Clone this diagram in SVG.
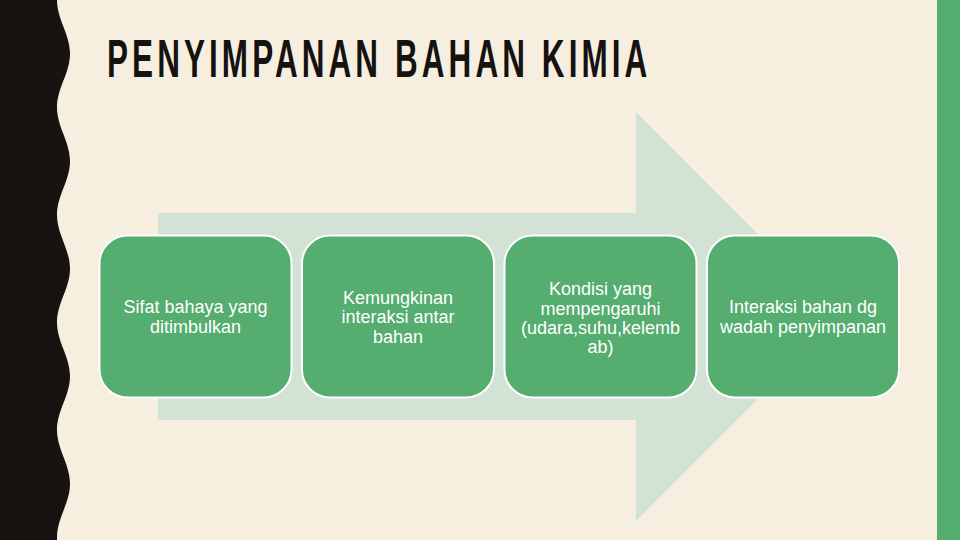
<svg xmlns="http://www.w3.org/2000/svg" width="960" height="540" viewBox="0 0 960 540">
  <style>
    .box { fill: #55AD6F; stroke: #FFFFFF; stroke-width: 2; }
    .lbl { font-family: "Liberation Sans", Arial, sans-serif; font-size: 18px; fill: #FFFFFF; text-anchor: middle; }
    .title { font-family: "Liberation Sans", Arial, sans-serif; font-size: 54px; font-weight: bold; fill: #151210; letter-spacing: 7px; }
  </style>
  <rect x="0" y="0" width="960" height="540" fill="#F6EFE0"/>
  <path id="left-band" fill="#161311" d="M0,0 L57,0 C57,19.35 70,34.4 70,53.75 C70,73.1 57,88.15 57,107.5 C57,126.85 70,141.9 70,161.25 C70,180.6 57,195.65 57,215 C57,234.35 70,249.4 70,268.75 C70,288.1 57,303.15 57,322.5 C57,341.85 70,356.9 70,376.25 C70,395.6 57,410.65 57,430 C57,449.35 70,464.4 70,483.75 C70,503.1 57,518.15 57,537.5 C57,556.85 70,571.9 70,591.25 L0,591.25 Z"/>
  <rect id="right-band" x="937" y="0" width="23" height="540" fill="#55AD6F"/>
  <text id="title" class="title" x="0" y="0" transform="translate(107,77) scale(0.583,1)">PENYIMPANAN BAHAN KIMIA</text>
  <g id="connectors">
    <path id="process-arrow" fill="#D2E3D5" d="M158,213 L636,213 L636,112 L840,316.5 L636,521 L636,420 L158,420 Z"/>
  </g>
  <g id="node1">
    <rect class="box" x="99.5" y="235.5" width="192" height="162" rx="28"/>
    <text class="lbl" x="195.5" y="313.3">Sifat bahaya yang</text>
    <text class="lbl" x="195.5" y="333.3">ditimbulkan</text>
  </g>
  <g id="node2">
    <rect class="box" x="302" y="235.5" width="192" height="162" rx="28"/>
    <text class="lbl" x="398" y="303.5">Kemungkinan</text>
    <text class="lbl" x="398" y="323.3">interaksi antar</text>
    <text class="lbl" x="398" y="343">bahan</text>
  </g>
  <g id="node3">
    <rect class="box" x="504.5" y="235.5" width="192" height="162" rx="28"/>
    <text class="lbl" x="600.5" y="295">Kondisi yang</text>
    <text class="lbl" x="600.5" y="314.5">mempengaruhi</text>
    <text class="lbl" x="600.5" y="334">(udara,suhu,kelemb</text>
    <text class="lbl" x="600.5" y="353">ab)</text>
  </g>
  <g id="node4">
    <rect class="box" x="707" y="235.5" width="192" height="162" rx="28"/>
    <text class="lbl" x="803" y="313.3">Interaksi bahan dg</text>
    <text class="lbl" x="803" y="333.3">wadah penyimpanan</text>
  </g>
</svg>
